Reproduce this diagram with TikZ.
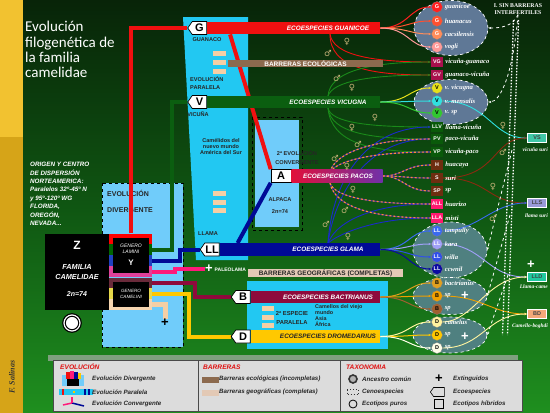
\documentclass[tikz,border=0pt]{standalone}
\usepackage{fontspec}
\setmainfont{Liberation Sans}
\newfontfamily\titlefont{Carlito}
\newfontfamily\spfont{Liberation Serif}
\newfontfamily\symfont{DejaVu Sans}
\usetikzlibrary{arrows.meta, positioning, shapes.geometric, shapes.symbols, calc}
\newcommand\fsz[2]{\fontsize{#1}{#2}\selectfont}

\definecolor{bgTop}{HTML}{082408}
\definecolor{bgMid}{HTML}{0F5612}
\definecolor{bgBot}{HTML}{1F8F1F}
\definecolor{stripYel}{HTML}{F2C230}
\definecolor{stripGold}{HTML}{D6A418}
\definecolor{cyanBand}{HTML}{22C8F2}
\definecolor{lightBlue}{HTML}{70CCFA}
\definecolor{peach}{HTML}{F5CFA5}
\definecolor{guanRed}{HTML}{F01010}
\definecolor{vicGreen}{HTML}{0B5E10}
\definecolor{glamaBlue}{HTML}{000A96}
\definecolor{glamaBlue2}{HTML}{1A2ACC}
\definecolor{pacoRed}{HTML}{E0103A}
\definecolor{pacoViolet}{HTML}{7030A8}
\definecolor{pinkPal}{HTML}{FF1A7A}
\definecolor{bactMaroon}{HTML}{8E0A3C}
\definecolor{dromYel}{HTML}{FFC800}
\definecolor{barEco}{HTML}{8C6A4E}
\definecolor{barGeo}{HTML}{E3C9B5}
\definecolor{ellBlue}{HTML}{5F7896}
\definecolor{ellTeal}{HTML}{4F8080}
\definecolor{gA}{HTML}{FF2020}
\definecolor{gB}{HTML}{FF5030}
\definecolor{gC}{HTML}{FF8C5A}
\definecolor{gD}{HTML}{FF9A9A}
\definecolor{vgC}{HTML}{A8104C}
\definecolor{vA}{HTML}{E6E01A}
\definecolor{vB}{HTML}{30E0E0}
\definecolor{vC}{HTML}{30C830}
\definecolor{hybGreen}{HTML}{0A5A0A}
\definecolor{hybGreenL}{HTML}{1A8A1A}
\definecolor{hybBrown}{HTML}{6E2E10}
\definecolor{hybBrown2}{HTML}{8A2A10}
\definecolor{hybPink}{HTML}{FF1A70}
\definecolor{llA}{HTML}{3A6AF0}
\definecolor{llB}{HTML}{A0A0F8}
\definecolor{llC}{HTML}{3050E8}
\definecolor{llD}{HTML}{0A0AA0}
\definecolor{bA}{HTML}{E0A020}
\definecolor{bB}{HTML}{F0A000}
\definecolor{bC}{HTML}{A06030}
\definecolor{dA}{HTML}{FFF4A0}
\definecolor{dB}{HTML}{FFC800}
\definecolor{dC}{HTML}{FFFFE8}
\definecolor{vsC}{HTML}{40C8A8}
\definecolor{llsC}{HTML}{9A9AD8}
\definecolor{lldC}{HTML}{20C8A0}
\definecolor{bdC}{HTML}{F4A878}
\definecolor{sexTan}{HTML}{C8B47A}
\definecolor{pacoOr}{HTML}{FF8C3A}
\definecolor{pacoPur}{HTML}{5030A0}
\definecolor{legGray}{HTML}{DCDCDC}
\definecolor{legLine}{HTML}{4A4A4A}
\definecolor{legStrip}{HTML}{7FA07F}
\definecolor{legRed}{HTML}{E01010}
\definecolor{stRed}{HTML}{FF0000}
\definecolor{stGreen}{HTML}{006400}
\definecolor{stBlue}{HTML}{2040C0}
\definecolor{stPink}{HTML}{E0409A}
\definecolor{stMaroon}{HTML}{6A2A3A}
\definecolor{stYel}{HTML}{E6D84A}
\definecolor{stPeach}{HTML}{F5D5B0}

\pgfdeclarelayer{bg}
\pgfdeclarelayer{lines}
\pgfsetlayers{bg,lines,main}

\begin{document}
\begin{tikzpicture}[x=1pt, y=-1pt,
  tag/.style={shape=signal, signal to=west, signal pointer angle=110,
    draw=black, fill=white, line width=0.7pt, minimum width=19pt,
    minimum height=13pt, inner sep=0pt, font=\fsz{11}{11}\bfseries},
  bar/.style={rectangle, fill=#1, minimum height=12.5pt, inner sep=0pt, anchor=west},
  bartext/.style={font=\fsz{6.4}{7}\bfseries\itshape, text=white, inner sep=0pt},
  barrier/.style={rectangle, fill=#1, minimum width=155pt, inner sep=0pt,
    font=\fsz{6.5}{7}\bfseries},
  lineage/.style={draw=#1, line width=4pt},
  stripe/.style={rectangle, fill=#1, minimum width=43pt, minimum height=11pt, inner sep=0pt},
  bandtext/.style={font=\fsz{5.6}{6.3}\bfseries, text=black!85, inner sep=0pt},
  spc/.style={circle, fill=#1, draw=black!50, line width=0.3pt, minimum size=11pt,
    inner sep=0pt, font=\fsz{5.5}{5.5}\bfseries, text=white},
  sps/.style={rectangle, fill=#1, minimum width=12pt, minimum height=10pt,
    inner sep=0pt, font=\fsz{5.3}{5.3}\bfseries, text=white},
  splab/.style={font=\spfont\fsz{6.6}{7}\bfseries\itshape, text=white, inner sep=2pt},
  fan/.style={draw=#1, line width=1pt, -{Stealth[length=3pt]}},
  hyb/.style={draw=#1, line width=0.9pt, -{Stealth[length=3pt]}},
  paco/.style={draw=pacoPur, line width=1.1pt, -{Stealth[length=3pt]},
    postaction={draw=pacoOr, -, dash pattern=on 2pt off 2pt}},
  ecoell/.style={ellipse, fill=#1, draw=white, dashed, line width=0.7pt, inner sep=0pt},
  hybbox/.style={rectangle, fill=#1, draw=white, line width=0.6pt, minimum width=19pt,
    minimum height=9pt, inner sep=0pt, font=\fsz{5.5}{5.5}\bfseries, text=black!75},
  hyblab/.style={font=\spfont\fsz{5.4}{6}\bfseries\itshape, text=white, inner sep=0pt},
  sinarrow/.style={draw=white, dashed, line width=0.8pt, -{Stealth[length=3pt]}},
  sex/.style={font=\symfont\fsz{8.5}{8.5}, text=sexTan, inner sep=0pt},
  plus/.style={font=\fsz{13}{13}\bfseries, text=white, inner sep=0pt},
  boxdash/.style={draw=black, dashed, line width=1pt},
  legtext/.style={font=\fsz{6.2}{7}\bfseries\itshape, text=black!85, anchor=west, inner sep=0pt},
  leghead/.style={font=\fsz{6.6}{7}\bfseries\itshape, text=legRed, anchor=west, inner sep=0pt},
]
\useasboundingbox (0,0) rectangle (550,413);

\begin{pgfonlayer}{bg}
% fondo
\shade[top color=bgTop, bottom color=bgBot, middle color=bgMid] (0,0) rectangle (550,413);
\fill[stripYel] (0,0) rectangle (23,137);
\fill[stripGold] (0,137) rectangle (23,413);

% zonas de evolucion
\fill[cyanBand] (183,17) -- (248,17) -- (248,260) -- (196,260) -- cycle;
\fill[lightBlue] (102,183) rectangle (183,347);
\draw[boxdash] (102,183) rectangle (183,347);
\fill[lightBlue] (255,120) rectangle (299,227);
\draw[boxdash] (252,117) rectangle (302,230);
\fill[cyanBand] (247,281) rectangle (388,349);
\fill[peach] (213,50.5) rectangle (226,55.5);
\fill[peach] (213,59.5) rectangle (226,64.5);
\fill[peach] (213,68.5) rectangle (226,73.5);
\fill[peach] (213,190.5) rectangle (226,195.5);
\fill[peach] (213,199.5) rectangle (226,204.5);
\fill[peach] (213,207.5) rectangle (226,212.5);
\fill[peach] (262,305.5) rectangle (274,310.5);
\fill[peach] (262,314.5) rectangle (274,319.5);
\fill[peach] (262,322.5) rectangle (274,327.5);

\node[bandtext, anchor=west, font=\fsz{7}{8}\bfseries] (divT1) at (107,193) {EVOLUCIÓN};
\node[bandtext, anchor=west, font=\fsz{7}{8}\bfseries] (divT2) at (107,210) {DIVERGENTE};
\node[bandtext, align=center, font=\fsz{5.6}{9}\bfseries] (convT) at (297,157.5) {2ª EVOLUCIÓN\\CONVERGENTE};

% ecoespecies
\node[ecoell=ellBlue, minimum width=74pt, minimum height=55pt] (ellG) at (451,28) {};
\node[ecoell=ellBlue, minimum width=74pt, minimum height=45pt] (ellV) at (451,102) {};
\node[ecoell=ellTeal, minimum width=74pt, minimum height=56pt] (ellLL) at (450,250) {};
\node[ecoell=ellTeal, minimum width=74pt, minimum height=37pt] (ellB) at (450,296) {};
\node[ecoell=ellTeal, minimum width=74pt, minimum height=36pt] (ellD) at (450,335) {};
\end{pgfonlayer}

% titulo
\node[font=\titlefont\fsz{15}{15.4}, text=white, align=left, anchor=north west, inner sep=0pt]
  (title) at (25,21) {Evolución\\filogenética de\\la familia\\camelidae};
\node[font=\fsz{6.3}{8.4}\bfseries\itshape, text=white, align=left, anchor=north west, inner sep=0pt]
  (origin) at (30,162) {ORIGEN Y CENTRO\\DE DISPERSIÓN\\NORTEAMERICA:\\Paralelos 32º-45º N\\y 95º-120º WG\\FLORIDA,\\OREGÓN,\\NEVADA...};
\node[font=\spfont\fsz{8}{8}\bfseries\itshape, text=black!80, rotate=90] (author) at (12,377) {F. Salinas};

% familia y generos
\node[rectangle, fill=black, minimum width=64pt, minimum height=76pt, inner sep=0pt] (zBox) at (77,272) {};
\node[font=\fsz{12}{12}\bfseries, text=white] (zT) at (77,245) {Z};
\node[font=\fsz{7.3}{9.5}\bfseries\itshape, text=white, align=center] (famT) at (77,272) {FAMILIA\\CAMELIDAE};
\node[font=\fsz{7}{7}\bfseries\itshape, text=white] (chromT) at (77,294) {2n=74};
\node[circle, fill=white, draw=black, double=white, double distance=1.2pt, line width=1.2pt,
  minimum size=16pt, inner sep=0pt] (ancestor) at (72,323) {};

\node[stripe=stRed] (sRed) at (130.5,239) {};
\node[stripe=stGreen] (sGreen) at (130.5,249.5) {};
\node[stripe=stBlue] (sBlue) at (130.5,260.5) {};
\node[stripe=stPink] (sPink) at (130.5,271.5) {};
\node[stripe=stMaroon] (sMaroon) at (130.5,283) {};
\node[stripe=stYel] (sYellow) at (130.5,293.5) {};
\node[stripe=stPeach] (sPeach) at (130.5,304.5) {};
\node[rectangle, fill=black, minimum width=36pt, minimum height=35pt, inner sep=0pt] (lamBox) at (131,255) {};
\node[rectangle, fill=black, minimum width=36pt, minimum height=25pt, inner sep=0pt] (camBox) at (131,294) {};
\node[font=\fsz{5}{6.5}\itshape, text=white, align=center] (lamT) at (131,249) {GENERO\\LAMINI};
\node[font=\fsz{8}{8}\bfseries, text=white] (lamY) at (131,263) {Y};
\node[font=\fsz{4.6}{6.5}\itshape, text=white, align=center] (camT) at (131,294) {GENERO\\CAMELINI};

% textos de las zonas
\node[bandtext] (guanacoT) at (207,40) {GUANACO};
\node[bandtext, align=left, anchor=west, font=\fsz{5.6}{8}\bfseries] (parT) at (190,83) {EVOLUCIÓN\\PARALELA};
\node[bandtext] (vicunaT) at (198,114) {VICUÑA};
\node[bandtext, align=center, font=\fsz{5.5}{6}\bfseries] (nuevoT) at (221,147) {Camélidos del\\nuevo mundo\\América del Sur};
\node[bandtext] (llamaT) at (208,234) {LLAMA};
\node[bandtext] (alpacaT) at (280,200) {ALPACA};
\node[bandtext] (alpChT) at (280,212) {2n=74};
\node[bandtext, align=center, font=\fsz{5.8}{9}\bfseries] (paralT) at (292,317.5) {2ª ESPECIE\\PARALELA};
\node[bandtext, align=left, anchor=west, font=\fsz{5.4}{5.8}\bfseries] (viejoT) at (315,315.5) {Camellos del viejo\\mundo\\Asia\\África};

% ecoespecies
\node[tag] (gTag) at (199.5,28) {G};
\node[tag] (vTag) at (199.5,102) {V};
\node[tag] (llTag) at (212,249.5) {LL};
\node[rectangle, draw=black, fill=white, line width=0.7pt, minimum width=20pt, minimum height=13pt,
  inner sep=0pt, font=\fsz{11}{11}\bfseries] (aTag) at (281,176) {A};
\node[tag] (bTag) at (243,297) {B};
\node[tag] (dTag) at (243,336.5) {D};

\node[bar=guanRed, minimum width=173pt] (guan) at (gTag.east) {};
\node[bar=vicGreen, minimum width=173pt] (vic) at (vTag.east) {};
\node[bar=glamaBlue, minimum width=160.5pt] (glama) at (llTag.east) {};
\node[bar=pacoRed, minimum width=91pt, left color=pacoRed, right color=pacoViolet] (pacos) at (aTag.east) {};
\node[bar=bactMaroon, minimum width=129.5pt] (bact) at (bTag.east) {};
\node[bar=dromYel, minimum width=129.5pt] (drom) at (dTag.east) {};

\node[bartext] (guanT) at (328,28) {ECOESPECIES GUANICOE};
\node[bartext] (vicT) at (328,102) {ECOESPECIES VICUGNA};
\node[bartext] (pacosT) at (338,176.5) {ECOESPECIES PACOS};
\node[bartext] (glamaT) at (328,249.5) {ECOESPECIES GLAMA};
\node[bartext] (bactT) at (328,297) {ECOESPECIES BACTRIANUS};
\node[bartext, text=black!85] (dromT) at (328,336.5) {ECOESPECIES DROMEDARIUS};

% barreras
\node[barrier=barEco, text=white, minimum height=7.5pt] (barEcoN) at (305.5,63.5) {BARRERAS ECOLÓGICAS};
\node[barrier=barGeo, text=black!85, minimum height=8.5pt] (barGeoN) at (325.5,273) {BARRERAS GEOGRÁFICAS (COMPLETAS)};

% extinguidos
\node[plus] (paleo) at (209,269) {+};
\node[bandtext, anchor=west, text=white, font=\fsz{5}{5}\bfseries] (paleoT) at (214.5,269.5) {PALEOLAMA};
\node[plus, text=black] (camPlus) at (165,323) {+};

% especies
\node[spc=gA, label={[splab]right:guanicoe}] (g1) at (437,7) {G};
\node[spc=gB, label={[splab]right:huanacus}] (g2) at (437,21) {G};
\node[spc=gC, label={[splab]right:cacsilensis}] (g3) at (437,34) {G};
\node[spc=gD, label={[splab]right:vogli}] (g4) at (437,47) {G};
\node[sps=vgC, label={[splab]right:vicuña-guanaco}] (vg) at (437,62) {VG};
\node[sps=vgC, label={[splab]right:guanaco-vicuña}] (gv) at (437,75) {GV};
\node[spc=vA, text=black, label={[splab]right:v. vicugna}] (v1) at (437,88) {V};
\node[spc=vB, text=black, label={[splab]right:v. mensalis}] (v2) at (437,101) {V};
\node[spc=vC, text=black, label={[splab]right:v. sp}] (v3) at (437,113) {V};
\node[sps=hybGreen, label={[splab]right:llama-vicuña}] (llv) at (437,127) {LLV};
\node[sps=hybGreen, label={[splab]right:paco-vicuña}] (pv) at (437,139) {PV};
\node[sps=hybGreen, label={[splab]right:vicuña-paco}] (vp) at (437,152) {VP};
\node[sps=hybBrown, label={[splab]right:huacaya}] (h) at (437,165) {H};
\node[sps=hybBrown, label={[splab]right:suri}] (s) at (437,178) {S};
\node[sps=hybBrown, label={[splab]right:sp}] (sp) at (437,191) {SP};
\node[sps=hybPink, label={[splab]right:huarizo}] (all) at (437,204) {ALL};
\node[sps=hybPink, label={[splab]right:misti}] (lla) at (437,218) {LLA};
\node[spc=llA, label={[splab]right:tampully}] (ll1) at (437,231) {LL};
\node[spc=llB, label={[splab]right:kara}] (ll2) at (437,244) {LL};
\node[spc=llC, label={[splab]right:willa}] (ll3) at (437,257) {LL};
\node[spc=llD, label={[splab]right:ccwnil}] (ll4) at (437,269) {LL};
\node[spc=bA, text=black, label={[splab]right:bactrianus}] (b1) at (437,283) {B};
\node[spc=bB, text=black, label={[splab]right:sp}] (b2) at (437,296) {B};
\node[spc=bC, text=black, label={[splab]right:sp}] (b3) at (437,309) {B};
\node[spc=dA, text=black, label={[splab]right:camelus}] (d1) at (437,322) {D};
\node[spc=dB, text=black, label={[splab]right:sp}] (d2) at (437,335) {D};
\node[spc=dC, text=black, label={[splab]right:sp}] (d3) at (437,348) {D};
\node[plus] (bPlus) at (465,296) {+};
\node[plus] (dPlus) at (465,337) {+};

% hibridos
\node[hybbox=vsC] (vs) at (537,138) {VS};
\node[hyblab, anchor=east] (vsL) at (548,150) {vicuña suri};
\node[hybbox=llsC] (lls) at (537,203) {LLS};
\node[hyblab, anchor=east] (llsL) at (548,216) {llama suri};
\node[hybbox=lldC] (lld) at (537,277) {LLD};
\node[plus] (lldPlus) at (531,265) {+};
\node[hyblab, anchor=east] (lldL) at (548,287) {Llama-came};
\node[hybbox=bdC] (bd) at (537,314) {BD};
\node[hyblab, anchor=east] (bdL) at (548,326) {Camello-boghdi};

% sin barreras
\node[font=\spfont\fsz{5.8}{7}\bfseries, text=white, align=center, inner sep=0pt] (sinBar) at (518,9) {I. SIN BARRERAS\\INTERFERTILES};
\coordinate (dotTop) at (516,20);
\coordinate (dotBot) at (505,335);
\draw[white, line width=1.3pt, dash pattern=on 1.5pt off 1.5pt] ([xshift=-2.5pt]dotTop) -- ([xshift=-2.5pt]dotBot);
\draw[white, line width=1.3pt, dash pattern=on 1.5pt off 1.5pt] ([xshift=2.5pt]dotTop) -- ([xshift=2.5pt]dotBot);
\coordinate (sb3) at (512,150);
\coordinate (sb4) at (510,215);
\coordinate (sb5) at (508,275);
\draw[sinarrow] (sinBar.south) .. controls +(-5,12) and +(12,0) .. (ellG.east);
\draw[sinarrow] (sinBar.south) .. controls +(-5,60) and +(12,0) .. (ellV.east);
\draw[sinarrow] (sb3) -- (ellLL.east);
\draw[sinarrow] (sb4) -- (ellB.east);
\draw[sinarrow] (sb5) -- (ellD.east);

% machos y hembras
\node[sex] (f1) at (347,42) {♀};
\node[sex] (m1) at (328,53) {♂};
\node[sex] (m2) at (337,78) {♂};
\node[sex] (f2) at (352,88) {♀};
\node[sex] (f3) at (375,118) {♀};
\node[sex] (f4) at (352,128) {♀};
\node[sex] (m3) at (358,144) {♂};
\node[sex] (m4) at (335,158) {♂};
\node[sex] (f5) at (347,167) {♀};
\node[sex] (f6) at (353,190) {♀};
\node[sex] (m5) at (345,210) {♂};
\node[sex] (m6) at (326,224) {♂};
\node[sex] (f7) at (348,237) {♀};
\node[sex] (f8) at (503,126) {♀};
\node[sex] (m7) at (503,152) {♂};
\node[sex] (f9) at (493,187) {♀};
\node[sex] (m8) at (493,218) {♂};

% leyenda
\fill[legStrip] (48,355) rectangle (518,361);
\node[draw=legLine, line width=1.2pt, fill=legGray, minimum width=469pt, minimum height=51pt,
  inner sep=0pt, anchor=north west] (legend) at (53,360) {};
\draw[legLine, line width=1pt] ([xshift=145pt]legend.north west) -- ([xshift=145pt]legend.south west);
\draw[legLine, line width=1pt] ([xshift=287pt]legend.north west) -- ([xshift=287pt]legend.south west);
\node[leghead] (evoH) at (60,367) {EVOLUCIÓN};
\fill[lightBlue] (62,375) rectangle (84,386);
\fill[black] (67,379) rectangle (79,386);
\fill[guanRed] (66,372) rectangle (70,379);
\fill[pinkPal] (70,371) rectangle (74,379);
\fill[glamaBlue] (74,372) rectangle (78,379);
\fill[dromYel] (78,373) rectangle (81,379);
\fill[cyanBand] (59,389) rectangle (93,395);
\fill[guanRed] (62,389) rectangle (64,395);
\fill[dromYel] (73,391) rectangle (75,393);
\fill[glamaBlue] (84,389) rectangle (86,395);
\fill[glamaBlue] (88,389) rectangle (90,395);
\draw[pinkPal, line width=1.5pt] (63,405) -- (72,403);
\draw[glamaBlue, line width=1.5pt] (72,403) -- (84,406);
\draw[pinkPal, line width=1.5pt] (72,397) -- (72,403);
\node[legtext] (evoDiv) at (92,379) {Evolución Divergente};
\node[legtext] (evoPar) at (92,392) {Evolución Paralela};
\node[legtext] (evoCon) at (92,404) {Evolución Convergente};
\node[leghead] (barH) at (203,367) {BARRERAS};
\node[rectangle, fill=barEco, minimum width=17pt, minimum height=6pt, inner sep=0pt] (legEco) at (210,380) {};
\node[legtext] (legEcoT) at (219,379) {Barreras ecológicas (incompletas)};
\node[rectangle, fill=barGeo, minimum width=17pt, minimum height=6pt, inner sep=0pt] (legGeo) at (210,393) {};
\node[legtext] (legGeoT) at (219,392) {Barreras geográficas (completas)};
\node[leghead] (taxH) at (346,367) {TAXONOMIA};
\node[circle, draw=black!80, line width=1.6pt, fill=gray!60, minimum size=8pt, inner sep=0pt] (legRing) at (353,379) {};
\node[legtext] (legRingT) at (362,379) {Ancestro común};
\node[rectangle, draw=black!80, dotted, line width=1pt, minimum width=11pt, minimum height=5pt, inner sep=0pt] (legCeno) at (353,392) {};
\node[legtext] (legCenoT) at (362,392) {Cenoespecies};
\node[circle, draw=black, line width=0.8pt, minimum size=8pt, inner sep=0pt] (legPuro) at (353,404) {};
\node[legtext] (legPuroT) at (362,404) {Ecotipos puros};
\node[font=\fsz{13}{13}\bfseries, inner sep=0pt] (legPlus) at (439,379) {+};
\node[legtext] (legPlusT) at (453,379) {Extinguidos};
\node[tag, minimum width=14pt, minimum height=9pt, line width=0.6pt, fill=none] (legTag) at (439,392) {};
\node[legtext] (legTagT) at (453,392) {Ecoespecies};
\node[rectangle, draw=black, line width=0.6pt, minimum size=9pt, inner sep=0pt] (legSq) at (439,404) {};
\node[legtext] (legSqT) at (453,404) {Ecotipos híbridos};

\begin{pgfonlayer}{lines}
% linajes
\draw[lineage=guanRed] (sRed.north) |- (gTag.west);
\draw[lineage=vicGreen] (sGreen.east) -- ++(20,0) |- (vTag.west);
\draw[lineage=glamaBlue] (sBlue.east) -- ++(28,0) |- (llTag.west);
\draw[lineage=pinkPal] (sPink.east) -- ++(23,0) |- (paleo.west);
\draw[lineage=bactMaroon] (sMaroon.east) -- ++(43,0) |- (bTag.west);
\draw[lineage=dromYel] (sYellow.east) -- ++(37,0) |- (dTag.west);
\draw[lineage=peach, line width=5pt] (sPeach.east) -| (camPlus.north);
\draw[lineage=guanRed] ([xshift=23pt]guan.south west) -- (aTag.north west);
\draw[lineage=glamaBlue] ([xshift=18pt]glama.north west) -- (aTag.south west);

% ecotipos
\draw[fan=gA] (guan.east) .. controls +(28,0) and +(-22,0) .. (g1.west);
\draw[fan=gB] (guan.east) .. controls +(28,0) and +(-22,0) .. (g2.west);
\draw[fan=gC] (guan.east) .. controls +(28,0) and +(-22,0) .. (g3.west);
\draw[fan=gD] (guan.east) .. controls +(28,0) and +(-22,0) .. (g4.west);
\draw[fan=vA] (vic.east) .. controls +(28,0) and +(-22,0) .. (v1.west);
\draw[fan=vB] (vic.east) .. controls +(28,0) and +(-22,0) .. (v2.west);
\draw[fan=vC] (vic.east) .. controls +(28,0) and +(-22,0) .. (v3.west);
\draw[fan=llA] (glama.east) .. controls +(28,0) and +(-22,0) .. (ll1.west);
\draw[fan=llB] (glama.east) .. controls +(28,0) and +(-22,0) .. (ll2.west);
\draw[fan=llC] (glama.east) .. controls +(28,0) and +(-22,0) .. (ll3.west);
\draw[fan=llD] (glama.east) .. controls +(28,0) and +(-22,0) .. (ll4.west);
\draw[fan=bA] (bact.east) .. controls +(28,0) and +(-22,0) .. (b1.west);
\draw[fan=bB] (bact.east) .. controls +(28,0) and +(-22,0) .. (b2.west);
\draw[fan=bC] (bact.east) .. controls +(28,0) and +(-22,0) .. (b3.west);
\draw[fan=dA] (drom.east) .. controls +(28,0) and +(-22,0) .. (d1.west);
\draw[fan=dB] (drom.east) .. controls +(28,0) and +(-22,0) .. (d2.west);
\draw[fan=dC] (drom.east) .. controls +(28,0) and +(-22,0) .. (d3.west);

% cruces
\coordinate (gh) at (330,34);
\draw[hyb=guanRed] (gh) .. controls +(3,22) and +(-55,0) .. (vg.west);
\draw[hyb=guanRed] (gh) .. controls +(0,34) and +(-60,0) .. (gv.west);
\coordinate (vh1) at (328,96);
\draw[hyb=hybGreenL] (vh1) .. controls +(2,-25) and +(-60,0) .. (vg.west);
\draw[hyb=hybGreenL] (vh1) .. controls +(5,-15) and +(-60,0) .. (gv.west);
\coordinate (vh2) at (328,108);
\draw[hyb=hybGreenL] (vh2) .. controls +(3,15) and +(-60,0) .. (llv.west);
\draw[hyb=hybGreenL] (vh2) .. controls +(3,25) and +(-60,0) .. (pv.west);
\draw[hyb=hybGreenL] (vh2) .. controls +(3,35) and +(-60,0) .. (vp.west);
\coordinate (glh) at (328,243);
\draw[hyb=glamaBlue2] (glh) .. controls +(5,-70) and +(-60,0) .. (llv.west);
\draw[hyb=glamaBlue2] (glh) .. controls +(8,-55) and +(-60,0) .. (pv.west);
\draw[hyb=glamaBlue2] (glh) .. controls +(10,-25) and +(-50,0) .. (all.west);
\draw[hyb=glamaBlue2] (glh) .. controls +(15,-12) and +(-50,0) .. (lla.west);
\coordinate (ph1) at (330,172);
\draw[paco] (ph1) .. controls +(5,-20) and +(-55,0) .. (pv.west);
\draw[paco] (ph1) .. controls +(8,-12) and +(-55,0) .. (vp.west);
\draw[paco] (pacos.east) .. controls +(20,0) and +(-25,0) .. (h.west);
\draw[paco] (pacos.east) .. controls +(20,0) and +(-25,0) .. (s.west);
\draw[paco] (pacos.east) .. controls +(20,0) and +(-25,0) .. (sp.west);
\coordinate (ph2) at (330,183);
\draw[paco] (ph2) .. controls +(5,15) and +(-55,0) .. (all.west);
\draw[paco] (ph2) .. controls +(5,25) and +(-55,0) .. (lla.west);

% hibridos entre ecotipos
\draw[hyb=vB] (v2.east) .. controls +(45,0) and +(-35,0) .. (vs.west);
\draw[hyb=hybBrown2] (s.east) .. controls +(55,0) and +(-35,0) .. (vs.west);
\draw[hyb=hybBrown2] (s.east) .. controls +(45,0) and +(-40,0) .. (lls.west);
\draw[hyb=llA] (ll1.east) .. controls +(35,0) and +(-35,0) .. (lls.west);
\draw[hyb=llB] (ll2.east) .. controls +(40,0) and +(-40,0) .. (lld.west);
\draw[hyb=dA] (d1.east) .. controls +(30,0) and +(-40,0) .. (lld.west);
\draw[hyb=bB] (b2.east) .. controls +(40,0) and +(-35,0) .. (bd.west);
\draw[hyb=dA] (d3.east) .. controls +(40,0) and +(-40,0) .. (bd.west);
\end{pgfonlayer}

\end{tikzpicture}
\end{document}
